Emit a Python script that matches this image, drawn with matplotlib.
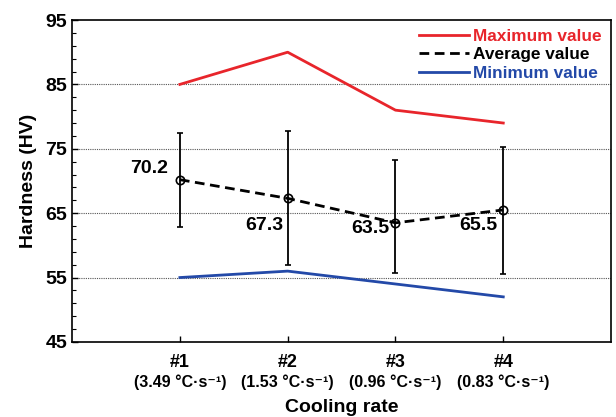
import numpy as np
import matplotlib.pyplot as plt
import matplotlib.transforms as mtransforms
from matplotlib.lines import Line2D

plt.rcParams['font.family'] = ['Liberation Sans', 'DejaVu Sans']
plt.rcParams['font.weight'] = 'bold'

# 樣品編號與冷卻速率
samples = ['#1', '#2', '#3', '#4']
rates = ['(3.49 °C·s⁻¹)', '(1.53 °C·s⁻¹)', '(0.96 °C·s⁻¹)', '(0.83 °C·s⁻¹)']

# 硬度 (HV)
hv_max = [85, 90, 81, 79]
hv_min = [55, 56, 54, 52]
hv_avg = [70.2, 67.3, 63.5, 65.5]
err_low = [62.9, 56.9, 55.7, 55.6]
err_high = [77.5, 77.7, 73.2, 75.3]

RED = '#e8252b'
BLUE = '#2349a8'
DASH = (0, (3.5, 2))

x = np.arange(1, len(samples) + 1)
yerr = [np.array(hv_avg) - np.array(err_low), np.array(err_high) - np.array(hv_avg)]

fig = plt.figure(figsize=(6.16, 4.17), dpi=100)
ax = fig.add_axes([0.117, 0.180, 0.875, 0.772])

# 格線
for g in [55, 65, 75, 85]:
    ax.axhline(g, color='#555555', linestyle=(0, (1, 1)), linewidth=0.8, zorder=0)

ax.plot(x, hv_max, color=RED, linewidth=2)
ax.errorbar(x, hv_avg, yerr=yerr, color='black', linestyle=DASH, linewidth=2,
            marker='o', markersize=6, markerfacecolor='none', markeredgewidth=1.2,
            ecolor='black', elinewidth=1.3, capsize=2.5, capthick=1.3)
ax.plot(x, hv_min, color=BLUE, linewidth=2)

# 平均值標註
offsets = [(-22, 8), (-17, -19.5), (-18, -4), (-18, -11)]
for xi, v, off in zip(x, hv_avg, offsets):
    ax.annotate(f'{v:.1f}', (xi, v), xytext=off, textcoords='offset points',
                ha='center', va='center', fontsize=14, fontweight='bold')

ax.set_xlim(0, 5)
ax.set_ylim(45, 95)
ax.set_yticks(np.arange(45, 96, 10))
ax.set_yticks(np.arange(47, 95, 2), minor=True)
ax.tick_params(axis='y', which='major', direction='in', length=4, labelsize=14, width=1)
ax.tick_params(axis='y', which='minor', direction='in', length=3, width=0.8)
ax.tick_params(axis='x', direction='in', length=4, labelsize=13, pad=9, width=1)
ax.set_xticks(x)
ax.set_xticklabels(samples, fontweight='bold')
for lab in ax.get_yticklabels():
    lab.set_fontweight('bold')

# 冷卻速率標註在編號下方
trans = mtransforms.blended_transform_factory(ax.transData, ax.transAxes)
for xi, r in zip(x, rates):
    ax.text(xi, -0.126, r, transform=trans, ha='center', va='center',
            fontsize=11.5, fontweight='bold')

ax.set_ylabel('Hardness (HV)', fontsize=14, fontweight='bold', labelpad=6)
ax.text(0.5, -0.203, 'Cooling rate', transform=ax.transAxes, ha='center', va='center',
        fontsize=14, fontweight='bold')

for s in ax.spines.values():
    s.set_linewidth(1.2)

handles = [Line2D([], [], color=RED, linewidth=2),
           Line2D([], [], color='black', linewidth=2, linestyle=DASH),
           Line2D([], [], color=BLUE, linewidth=2)]
labels = ['Maximum value', 'Average value', 'Minimum value']
leg = ax.legend(handles, labels, loc='upper right', frameon=False, fontsize=12.4,
                handlelength=2.85, handletextpad=0.25, labelspacing=0.22,
                borderaxespad=0, bbox_to_anchor=(0.995, 0.995))
for txt, c in zip(leg.get_texts(), [RED, 'black', BLUE]):
    txt.set_color(c)
    txt.set_fontweight('bold')

fig.savefig('out.png', dpi=100)
